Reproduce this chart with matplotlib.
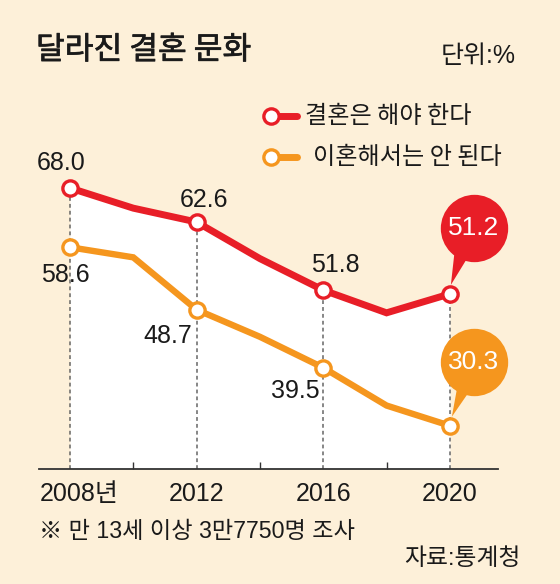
import matplotlib
matplotlib.use("Agg")
import matplotlib.pyplot as plt
from matplotlib import font_manager as fm
from matplotlib import patheffects as pe
from matplotlib.lines import Line2D
from matplotlib.patches import Polygon
from matplotlib.transforms import offset_copy, ScaledTranslation, IdentityTransform

# ---- data ----
years = [2008, 2010, 2012, 2014, 2016, 2018, 2020]
marriage = [68.0, 64.8, 62.6, 56.8, 51.8, 48.2, 51.2]
no_divorce = [58.6, 57.0, 48.7, 44.4, 39.5, 33.5, 30.3]
labeled_years = [2008, 2012, 2016, 2020]
tick_labels = ["2008년", "2012", "2016", "2020"]
series_names = ["결혼은 해야 한다", "이혼해서는 안 된다"]
title = "달라진 결혼 문화"
unit = "단위:%"
note = "※ 만 13세 이상 3만7750명 조사"
source = "자료:통계청"

# ---- style ----
BG = "#FDF0D9"
RED = "#E81E27"
ORANGE = "#F5961E"
TXT = "#1A1A1A"
names = {f.name for f in fm.fontManager.ttflist}
NUM = "Liberation Sans Narrow" if "Liberation Sans Narrow" in names else "Liberation Sans"
KR = ["Noto Sans CJK KR", "DejaVu Sans"]
NUMF = [NUM, "Noto Sans CJK KR", "DejaVu Sans"]
plt.rcParams["font.family"] = KR

W, H = 560, 584
fig = plt.figure(figsize=(W / 100, H / 100), dpi=100, facecolor=BG)
ax = fig.add_axes([38.6 / W, 1 - 468.6 / H, 459.4 / W, 356.3 / H])
ax.set_facecolor(BG)
ax.set_xlim(2007.01, 2021.52)
ax.set_ylim(23.5, 80)
for s in ["left", "right", "top"]:
    ax.spines[s].set_visible(False)
ax.spines["bottom"].set_color("#333333")
ax.spines["bottom"].set_linewidth(1.3)
ax.set_yticks([])

# white area under the red line
ax.fill_between(years, marriage, 23.5, color="white", lw=0, zorder=1)

# dotted guide lines
lab_red = [marriage[years.index(y)] for y in labeled_years]
ax.vlines(labeled_years, 23.5, lab_red, colors="#666666", linestyles=(0, (2.5, 2)),
          lw=1.1, zorder=2)

# lines
ax.plot(years, no_divorce, color=ORANGE, lw=4.6, solid_joinstyle="miter", zorder=3)
ax.plot(years, marriage, color=RED, lw=5.0, solid_joinstyle="miter", zorder=4)
lab_or = [no_divorce[years.index(y)] for y in labeled_years]
ax.plot(labeled_years, lab_or, ls="none", marker="o", ms=11, mfc="white",
        mec=ORANGE, mew=2.4, zorder=5)
ax.plot(labeled_years, lab_red, ls="none", marker="o", ms=11, mfc="white",
        mec=RED, mew=2.4, zorder=6)

# ticks
ax.set_xticks(labeled_years)
ax.set_xticklabels(tick_labels, fontsize=18, color=TXT, family=NUMF)
ax.set_xticks([2010, 2014, 2018], minor=True)
ax.tick_params(axis="x", which="major", length=0, pad=10)
ax.tick_params(axis="x", which="minor", direction="in", length=5, width=1,
               color="#333333")
first = ax.get_xticklabels()[0]
first.set_transform(first.get_transform() + ScaledTranslation(9 / 100, 0, fig.dpi_scale_trans))

# value labels (offsets in pixels from the point)
def lab(x, y, txt, dx, dy):
    ax.text(x, y, txt, transform=offset_copy(ax.transData, fig=fig, x=dx, y=dy, units="dots"),
            ha="center", va="center", fontsize=18, color=TXT, family=NUMF, zorder=7)

lab(2008, 68.0, "68.0", -9, 25)
lab(2008, 58.6, "58.6", -5, -28)
lab(2012, 62.6, "62.6", 7, 22)
lab(2012, 48.7, "48.7", -29, -26)
lab(2016, 51.8, "51.8", 12, 25)
lab(2016, 39.5, "39.5", -28, -23)

# bubbles for 2020
def bubble(x, y, color, txt, cdx, cdy, tail):
    tr = offset_copy(ax.transData, fig=fig, x=cdx, y=cdy, units="dots")
    px, py = ax.transData.transform((x, y))
    verts = [(px + a, py + b) for a, b in tail]
    ax.add_patch(Polygon(verts, closed=True, facecolor=color, edgecolor="none",
                         transform=IdentityTransform(), zorder=8, clip_on=False))
    ax.plot([x], [y], marker="o", ms=48.5, mfc=color, mec="none", transform=tr,
            zorder=9, clip_on=False)
    ax.text(x, y, txt, transform=tr, ha="center", va="center", fontsize=19,
            color="white", family=NUMF, zorder=10)

bubble(2020, marriage[-1], RED, f"{marriage[-1]:.1f}", 24, 66,
       [(1, 9), (5, 45), (20, 40)])
bubble(2020, no_divorce[-1], ORANGE, f"{no_divorce[-1]:.1f}", 24, 64,
       [(2, 9), (8, 42), (22, 38)])

# legend (manual)
for (yy, col, name, tx) in [(116, RED, series_names[0], 305), (157, ORANGE, series_names[1], 313)]:
    fig.add_artist(Line2D([275 / W, 297 / W], [1 - yy / H] * 2, color=col, lw=5,
                          solid_capstyle="round"))
    fig.add_artist(Line2D([271 / W], [1 - yy / H], marker="o", ms=11, mfc="white",
                          mec=col, mew=2.4, ls="none"))
    fig.text(tx / W, 1 - yy / H, name, ha="left", va="center", fontsize=17.4, color=TXT)

# titles & notes
fig.text(36 / W, 1 - 50 / H, title, ha="left", va="center", fontsize=22.5,
         color=TXT, path_effects=[pe.withStroke(linewidth=0.5, foreground=TXT)])
fig.text(516 / W, 1 - 56 / H, unit, ha="right", va="center", fontsize=18,
         color=TXT, family=NUMF)
fig.text(38.6 / W, 1 - 531 / H, note, ha="left", va="center", fontsize=16.7,
         color=TXT, family=NUMF)
fig.text(521 / W, 1 - 559 / H, source, ha="right", va="center", fontsize=17.2,
         color=TXT, family=NUMF)

fig.savefig("out.png", dpi=100, facecolor=BG)
